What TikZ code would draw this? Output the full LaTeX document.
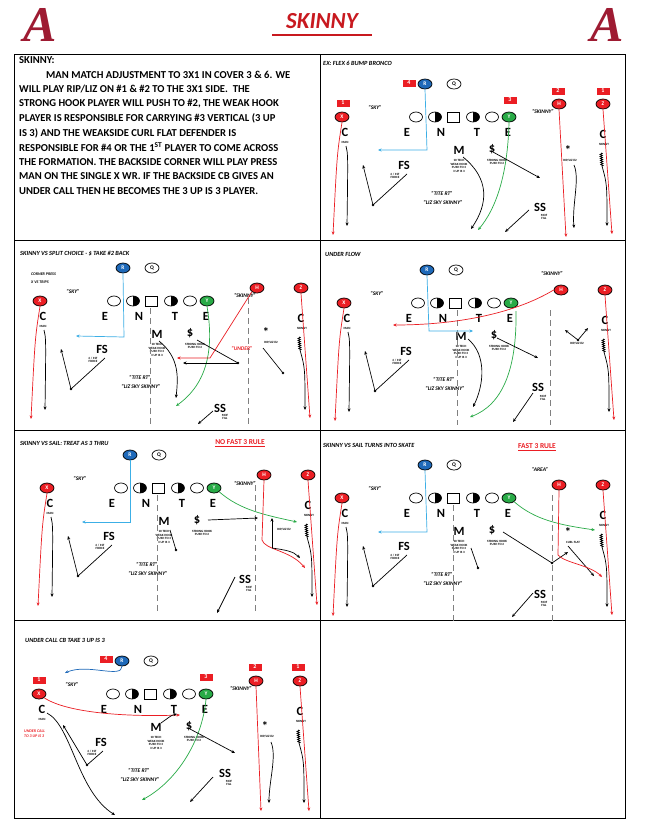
\documentclass[tikz,border=0pt]{standalone}
\usepackage{fontspec}
\setmainfont{Carlito}
\newfontfamily\serifA{Liberation Serif}
\usetikzlibrary{shapes.geometric,arrows.meta,decorations.pathmorphing}
\definecolor{bama}{RGB}{158,27,50}
\definecolor{pred}{RGB}{235,30,36}
\definecolor{pblue}{RGB}{30,105,185}
\definecolor{lblue}{RGB}{60,175,230}
\definecolor{pgreen}{RGB}{40,170,70}
\tikzset{
 pl/.style={ellipse,draw=black,line width=0.7pt,minimum width=14pt,minimum height=10pt,inner sep=0pt,font=\fontsize{5.5}{5.5}\selectfont\bfseries,text=white},
 lbl/.style={font=\fontsize{12.5}{12.5}\selectfont\bfseries,inner sep=0pt},
 subt/.style={font=\fontsize{3.2}{3.7}\selectfont\bfseries,align=center,inner sep=0pt},
 callt/.style={font=\fontsize{5.5}{6}\selectfont\bfseries\itshape,inner sep=0pt},
 ttl/.style={font=\fontsize{6.3}{7}\selectfont\bfseries\itshape,anchor=west,inner sep=0pt},
 numbox/.style={fill=pred,text=white,font=\fontsize{6}{6}\selectfont\bfseries,minimum width=13pt,minimum height=7pt,inner sep=0pt},
 rt/.style={-{Stealth[length=3.5pt,width=3pt]},line width=0.7pt},
 ln/.style={line width=0.7pt},
 dl/.style={gray,line width=0.8pt,dash pattern=on 6pt off 4pt},
 sq/.style={decorate,decoration={zigzag,amplitude=1.2pt,segment length=2pt},line width=0.7pt}
}
\newcommand\halfov[2]{\draw[line width=0.7pt] (#1,#2) ellipse (6.5pt and 5pt);
 \begin{scope}\clip (#1,#2) ellipse (6.5pt and 5pt); \fill (#1,#2-6) rectangle (#1+7,#2+6);\end{scope}}
\newcommand\baseform{%
 \node[pl,fill=pblue] (R) at (105,30) {R};
 \node[pl,fill=white,text=black] (Q) at (134,30) {Q};
 \draw[line width=0.7pt] (96,63) ellipse (6.5pt and 5pt);
 \halfov{115}{63}
 \draw[line width=0.7pt] (127,58) rectangle (139,68);
 \halfov{153}{63}
 \draw[line width=0.7pt] (172,63) ellipse (6.5pt and 5pt);
 \node[pl,fill=pgreen] (Y) at (189,63) {Y};
 \node[pl,fill=pred] (X) at (22,63) {X};
 \node[pl,fill=pred] (H) at (239,50) {H};
 \node[pl,fill=pred] (Z) at (283,50) {Z};
 \node[lbl] (LE) at (87,78) {E}; \node[lbl] (LN) at (121,78) {N};
 \node[lbl] (LT) at (157,78) {T}; \node[lbl] (LE2) at (188,78) {E};
 \node[lbl] (Cl) at (25,78) {C}; \node[subt] (Clm) at (25,88) {MAN};
 \node[lbl] (Cr) at (283,80) {C}; \node[subt] (Crs) at (284,90) {SKINNY};
 \node[lbl] (M) at (139,96) {M}; \node[subt] (Ms) at (139,112) {10 TECH\\WEAK HOOK\\PUSH TO 3\\3 UP IS 3};
 \node[lbl] (D) at (172,95) {\$}; \node[subt] (Ds) at (177,108) {STRONG HOOK\\PUSH TO 2};
 \node[lbl] (FS) at (84,111) {FS}; \node[subt] (FSs) at (75,122) {4 / 1ST\\FORCE};
 \node[callt] (T1) at (122,139) {``TITE RT''}; \node[callt] (T2) at (123,148) {``LIZ SKY SKINNY''};
 \node[callt] (SKY) at (55,53) {``SKY''};
}
\newcommand\leftr{%
 \draw[rt,pred] (X.south) .. controls (17,100) .. (13,181);
 \draw[rt] (26,92) .. controls (28,100) .. (27,172);
 \coordinate (fd) at (53,151); \fill (fd) circle (1.3pt);
 \draw[rt] (fd) -- (43,111); \draw[ln] (87,120) -- (fd);}
\newcommand\rightr{%
 \draw[rt,pred] (Z.south) -- (292,180);
 \draw[sq] (281,99) -- (282,112);
 \draw[rt] (282,112) .. controls (287,130) .. (287,172);}
\begin{document}
\begin{tikzpicture}[x=1pt,y=-1pt]
\useasboundingbox[fill=white] (0,0) rectangle (645,830);
% header
\node[text=bama,font=\serifA\bfseries\itshape\fontsize{50}{50}\selectfont] (A1) at (40,25) {A};
\node[text=bama,font=\serifA\bfseries\itshape\fontsize{50}{50}\selectfont] (A2) at (607,25) {A};
\node[text=pred!85!black,font=\fontsize{23}{23}\selectfont\bfseries\itshape] (title) at (322,21) {SKINNY};
\draw[pred!85!black,line width=1.2pt] (272,35) -- (372,35);
% frame
\draw[line width=1pt] (14,54) rectangle (625,818);
\draw[line width=1pt] (320,54) -- (320,818);
\foreach \yy in {240,430,620} \draw[line width=1pt] (14,\yy) -- (625,\yy);
% text panel
\node[anchor=west,font=\fontsize{10.6}{10}\selectfont\bfseries,inner sep=0pt] (tx0) at (19,60) {SKINNY:};
\begin{scope}[every node/.style={anchor=west,font=\fontsize{10.6}{10}\selectfont\bfseries,inner sep=0pt}]
\node (tx1) at (46,75) {MAN MATCH ADJUSTMENT TO 3X1 IN COVER 3 \& 6. WE};
\node (tx2) at (19,89.5) {WILL PLAY RIP/LIZ ON \#1 \& \#2 TO THE 3X1 SIDE.\ \ THE};
\node (tx3) at (19,104) {STRONG HOOK PLAYER WILL PUSH TO \#2, THE WEAK HOOK};
\node (tx4) at (19,118.5) {PLAYER IS RESPONSIBLE FOR CARRYING \#3 VERTICAL (3 UP};
\node (tx5) at (19,133) {IS 3) AND THE WEAKSIDE CURL FLAT DEFENDER IS};
\node (tx6) at (19,147.5) {RESPONSIBLE FOR \#4 OR THE 1\textsuperscript{ST} PLAYER TO COME ACROSS};
\node (tx7) at (19,162) {THE FORMATION. THE BACKSIDE CORNER WILL PLAY PRESS};
\node (tx8) at (19,176.5) {MAN ON THE SINGLE X WR. IF THE BACKSIDE CB GIVES AN};
\node (tx9) at (19,191) {UNDER CALL THEN HE BECOMES THE 3 UP IS 3 PLAYER.};
\end{scope}
% titles
\node[ttl] (t2) at (323,63) {EX: FLEX 6 BUMP BRONCO};
\node[ttl] (t3) at (20,254) {SKINNY VS SPLIT CHOICE - \$ TAKE \#2 BACK};
\node[ttl] (t4) at (325,254) {UNDER FLOW};
\node[ttl] (t5) at (20,443) {SKINNY VS SAIL: TREAT AS 3 THRU};
\node[ttl] (t6) at (323,445) {SKINNY VS SAIL TURNS INTO SKATE};
\node[ttl] (t7) at (25,640) {UNDER CALL CB TAKE 3 UP IS 3};
% ---------- panel 2
\begin{scope}[shift={(320,54)}]
\baseform \leftr \rightr
\node[numbox] (b4) at (89,29) {4}; \node[numbox] (b1) at (23,49) {1};
\node[numbox] (b3) at (190,46) {3}; \node[numbox] (b2) at (238,37) {2}; \node[numbox] (b1b) at (283,37) {1};
\node[callt] (sk) at (223,57) {``SKINNY''};
\node[lbl] (SS) at (220,153) {SS}; \node[subt] (SSs) at (224,163) {MOF\\FILL};
\node[lbl] (st) at (248,96) {*}; \node[subt] (sts) at (250,106) {RIP/LIZ \#2};
\draw[rt,lblue] (R.south) -- (107,96) -- (58,96);
\draw[rt,pgreen] (Y.south) .. controls (188,110) and (180,150) .. (158,176);
\draw[rt] (143,103) .. controls (170,125) and (168,150) .. (151,175);
\draw[rt] (173,98) -- (220,124);
\draw[rt] (209,156) -- (185,178);
\draw[rt] (254,111) .. controls (260,125) and (252,150) .. (254,174);
\draw[rt,pred] (H.south) -- (246,183);
\end{scope}
% ---------- panel 3
\begin{scope}[shift={(18,238)}]
\baseform \leftr \rightr
\draw[dl] (132,70) -- (132,187); \draw[dl] (230,60) -- (230,187);
\node[callt,anchor=west,font=\fontsize{4}{4.5}\selectfont\bfseries\itshape] (cp) at (13,36) {CORNER PRESS};
\node[callt,anchor=west,font=\fontsize{4}{4.5}\selectfont\bfseries\itshape] (xv) at (13,44) {X VS TRIPS};
\node[callt] (sk) at (227,57) {``SKINNY''};
\node[lbl] (SS) at (202,170) {SS}; \node[subt] (SSs) at (207,179) {MOF\\FILL};
\node[lbl] (st) at (248,94) {*}; \node[subt] (sts) at (253,104) {RIP/LIZ \#2};
\node[callt,text=pred] (und) at (224,110) {``UNDER''};
\draw[rt,lblue] (R.south) -- (106,99) -- (58,98);
\draw[rt,pgreen] (Y.south) .. controls (196,110) and (190,145) .. (158,168);
\draw[rt] (141,103) .. controls (162,120) and (160,140) .. (158,160);
\draw[ln] (179,102) -- (220,125); \fill (220,125) circle (1.3pt); \draw[rt] (220,125) -- (165,125);
\draw[ln] (245,110) -- (265,135); \fill (265,135) circle (1.3pt);
\draw[rt] (195,173) -- (180,186);
\draw[rt,pred] (H.south west) -- (192,120) -- (159,120);
\end{scope}
% ---------- panel 4
\begin{scope}[shift={(322,240)}]
\baseform \leftr \rightr
\draw[dl] (135,70) -- (135,185); \draw[dl] (228,70) -- (228,185);
\node[callt] (sk) at (230,33) {``SKINNY''};
\node[lbl] (SS) at (216,147) {SS}; \node[subt] (SSs) at (221,158) {MOF\\FILL};
\node[subt] (sts) at (255,103) {RIP/LIZ \#2};
\draw[rt,pred] (H.west) .. controls (190,75) and (130,85) .. (71,85);
\draw[rt,lblue] (R.south) -- (107,91) -- (151,91);
\draw[rt,pgreen] (194,71) .. controls (195,130) and (180,165) .. (148,177);
\draw[rt] (146,99) .. controls (165,115) and (162,145) .. (151,167);
\draw[rt] (175,98) -- (216,118);
\draw[rt] (211,153) -- (191,182);
\fill (256,100) circle (1.3pt); \draw[rt] (256,100) -- (266,88); \draw[rt] (256,100) -- (243,90);
\end{scope}
% ---------- panel 5
\begin{scope}[shift={(25,425)}]
\baseform \leftr \rightr
\draw[dl] (132,70) -- (132,187); \draw[dl] (230,60) -- (230,187);
\node[font=\fontsize{7.5}{8}\selectfont\bfseries,text=pred] (nf) at (215,18) {\underline{NO FAST 3 RULE}};
\node[callt] (sk) at (220,58) {``SKINNY''};
\node[lbl] (SS) at (220,154) {SS}; \node[subt] (SSs) at (224,164) {MOF\\FILL};
\node[subt] (sts) at (259,104) {RIP/LIZ \#2};
\draw[rt,lblue] (R.south) -- (105,97) -- (57,97);
\draw[rt,pgreen] (Y.south east) .. controls (215,85) and (240,90) .. (272,97);
\draw[rt] (183,95) -- (233,93);
\draw[ln] (145,105) -- (151,125); \fill (151,125) circle (1.3pt);
\draw[rt,pred] (H.south) -- (237,115) .. controls (240,125) and (265,125) .. (280,143);
\draw[rt] (247,123) -- (247,93);
\draw[rt] (247,123) .. controls (260,125) and (268,126) .. (275,133);
\draw[rt] (210,152) -- (192,188);
\end{scope}
% ---------- panel 6
\begin{scope}[shift={(320,435)}]
\baseform \leftr \rightr
\draw[dl] (133,70) -- (133,187); \draw[dl] (232,60) -- (232,187);
\node[font=\fontsize{7.5}{8}\selectfont\bfseries,text=pred] (ff) at (217,12) {\underline{FAST 3 RULE}};
\node[callt] (ar) at (220,34) {``AREA''};
\node[lbl] (SS) at (220,159) {SS}; \node[subt] (SSs) at (224,169) {MOF\\FILL};
\node[lbl] (st) at (248,97) {*}; \node[subt] (sts) at (253,107) {CURL FLAT};
\draw[rt,lblue] (R.south) -- (107,97) -- (58,97);
\draw[rt,pgreen] (Y.south east) .. controls (215,85) and (240,90) .. (275,95);
\draw[ln] (183,97) -- (232,128); \fill (232,128) circle (1.3pt); \draw[rt] (232,128) -- (248,117);
\draw[rt] (248,111) -- (274,141);
\draw[rt,pred] (H.south) -- (238,120) .. controls (245,128) and (270,130) .. (282,142);
\draw[ln] (151,113) -- (158,133); \fill (158,133) circle (1.3pt);
\draw[rt] (213,158) -- (192,182);
\end{scope}
% ---------- panel 7
\begin{scope}[shift={(17,631)}]
\baseform \rightr
\node[numbox] (b4) at (89,28) {4}; \node[numbox] (b1) at (22,49) {1};
\node[numbox] (b3) at (189,46) {3}; \node[numbox] (b2) at (238,36) {2}; \node[numbox] (b1b) at (281,36) {1};
\node[callt] (sk) at (224,57) {``SKINNY''};
\node[lbl] (SS) at (208,142) {SS}; \node[subt] (SSs) at (212,152) {MOF\\FILL};
\node[lbl] (st) at (248,95) {*}; \node[subt] (sts) at (250,105) {RIP/LIZ \#2};
\node[subt,text=pred,anchor=west,font=\fontsize{4}{5}\selectfont\bfseries\itshape,align=left] (uc) at (7,103) {UNDER CALL\\TO 3 UP IS 3};
\draw[rt,pblue] (R.south) .. controls (105,48) and (70,32) .. (48,42);
\draw[rt,pred] (X.south east) .. controls (50,82) and (110,86) .. (163,84);
\draw[rt] (144,92) .. controls (150,88) and (154,84) .. (160,83);
\draw[rt] (30,82) .. controls (55,95) and (60,160) .. (98,184);
\fill (70,134) circle (1.3pt); \draw[rt] (70,134) -- (46,94); \draw[ln] (86,120) -- (70,134);
\draw[rt,pgreen] (Y.south) .. controls (185,110) and (160,150) .. (125,169);
\draw[rt] (173,98) -- (218,122);
\draw[rt] (196,146) -- (173,171);
\draw[rt] (254,111) .. controls (260,125) and (252,150) .. (252,172);
\draw[rt,pred] (H.south) -- (244,180);
\end{scope}
\end{tikzpicture}
\end{document}
